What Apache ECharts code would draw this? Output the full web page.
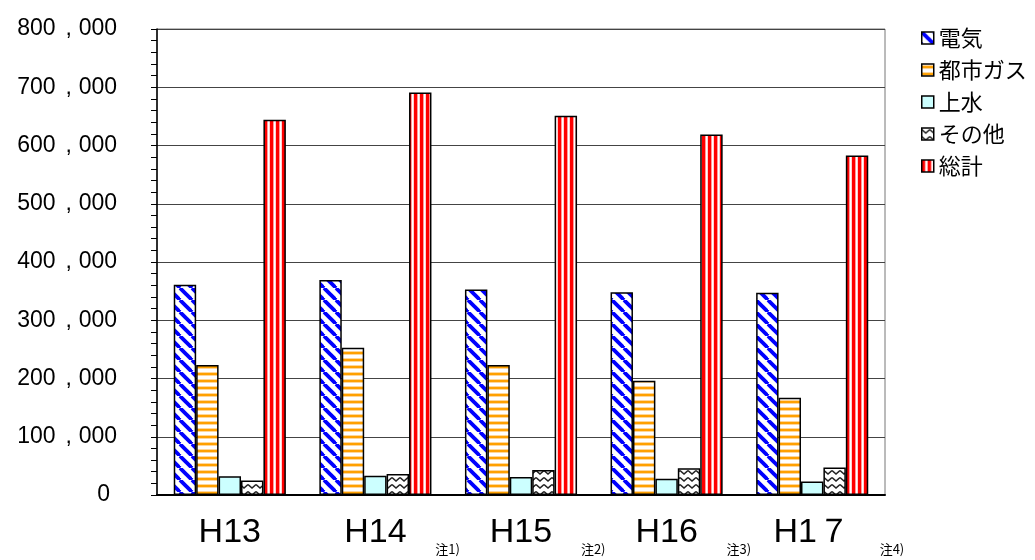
<!DOCTYPE html>
<html>
<head>
<meta charset="utf-8">
<script src="https://cdn.jsdelivr.net/npm/echarts@6/dist/echarts.min.js"></script>
<style>html,body{margin:0;padding:0;background:#fff}#c{width:1035px;height:560px}</style>
</head>
<body>
<div id="c"></div>
<script>
const categories = ['H13', 'H14', 'H15', 'H16', 'H1７'];
const notes = ['', '注1)', '注2)', '注3)', '注4)'];
const seriesNames = ['電気', '都市ガス', '上水', 'その他', '総計'];
const denki = [361000, 369000, 353000, 348000, 347000];
const gas = [223000, 253000, 223000, 196000, 167000];
const jousui = [32000, 33000, 31000, 28000, 23000];
const sonota = [25000, 36000, 43000, 46000, 47000];
const soukei = [644000, 691000, 651000, 619000, 583000];
const yTicks = [0, 100000, 200000, 300000, 400000, 500000, 600000, 700000, 800000];

function pat(w, h, draw) {
  const c = document.createElement('canvas');
  c.width = w; c.height = h;
  const ctx = c.getContext('2d');
  ctx.fillStyle = '#fff';
  ctx.fillRect(0, 0, w, h);
  draw(ctx);
  return { image: c, repeat: 'repeat' };
}
const pDenki = pat(12, 12, ctx => {
  ctx.strokeStyle = '#0000ff'; ctx.lineWidth = 3.8;
  for (const k of [-12, 0, 12]) { ctx.beginPath(); ctx.moveTo(k, 0); ctx.lineTo(k + 12, 12); ctx.stroke(); }
});
const pGas = pat(4, 7, ctx => {
  ctx.fillStyle = '#ffd699'; ctx.fillRect(0, 1, 4, 1); ctx.fillRect(0, 4, 4, 1);
  ctx.fillStyle = '#ffa000'; ctx.fillRect(0, 2, 4, 2);
});
const pSonota = pat(8, 7, ctx => {
  ctx.strokeStyle = '#222'; ctx.lineWidth = 1.6;
  ctx.beginPath(); ctx.moveTo(0, 1.5); ctx.lineTo(4, 5); ctx.lineTo(8, 1.5); ctx.stroke();
});
const pSoukei = pat(6, 4, ctx => {
  ctx.fillStyle = '#ff0000'; ctx.fillRect(0, 0, 3, 4);
  ctx.fillStyle = '#ff9a9a'; ctx.fillRect(3, 0, 1, 4);
  ctx.fillStyle = '#ffd0d0'; ctx.fillRect(5, 0, 1, 4);
});
const fills = [pDenki, pGas, '#ccffff', pSonota, pSoukei];
const values = [denki, gas, jousui, sonota, soukei];

const chart = echarts.init(document.getElementById('c'), null, { renderer: 'canvas' });
chart.setOption({
  animation: false,
  backgroundColor: '#fff',
  grid: { left: 157, right: 150, top: 29, bottom: 65, show: true, borderColor: '#777', borderWidth: 1 },
  legend: {
    orient: 'vertical', left: 916, top: 22, itemWidth: 12, itemHeight: 12, itemGap: 10,
    icon: 'rect',
    itemStyle: { borderColor: '#000', borderWidth: 1.5 },
    textStyle: { fontFamily: 'Noto Sans CJK JP', fontSize: 22, color: '#000', lineHeight: 22 },
    data: seriesNames
  },
  xAxis: {
    type: 'category', data: categories,
    axisLine: { lineStyle: { color: '#000', width: 2 } },
    axisTick: { inside: true, length: 8, lineStyle: { color: '#444', width: 1 } },
    axisLabel: {
      interval: 0, margin: 21,
      formatter: (v, i) => notes[i] ? '{s| }{h|' + v + '}{n|' + notes[i] + '}' : '{h|' + v + '}',
      rich: {
        s: { width: 54, height: 40, fontSize: 12 },
        h: { fontFamily: 'Liberation Sans', fontSize: 34, lineHeight: 36, color: '#000', verticalAlign: 'top' },
        n: { fontFamily: 'Noto Sans CJK JP', fontSize: 13, lineHeight: 15, width: 26, padding: [0, 0, 0, 28], color: '#000', verticalAlign: 'bottom' }
      }
    }
  },
  yAxis: {
    type: 'value', min: 0, max: 800000, interval: 100000,
    axisLine: { show: true, lineStyle: { color: '#000', width: 1.5 } },
    axisTick: { show: true, length: 6, lineStyle: { color: '#000' } },
    minorTick: { show: true, splitNumber: 5, length: 6, lineStyle: { color: '#000' } },
    splitLine: { lineStyle: { color: '#444', width: 1 } },
    axisLabel: {
      margin: 40,
      formatter: v => {
        const t = yTicks.indexOf(v);
        if (t === 0) return '{z|0}';
        const k = String(Math.floor(v / 1000));
        return '{d|' + k + '}{c|,}{d|000}';
      },
      rich: {
        d: { fontFamily: 'Liberation Sans', fontSize: 23, color: '#000' },
        z: { fontFamily: 'Liberation Sans', fontSize: 23, color: '#000', padding: [0, 7, 0, 0] },
        c: { fontFamily: 'Liberation Sans', fontSize: 23, color: '#000', width: 20, align: 'left', padding: [0, 0, 0, 3] }
      }
    }
  },
  series: seriesNames.map((name, i) => ({
    name, type: 'bar', data: values[i],
    barGap: '0%', barCategoryGap: '23%',
    itemStyle: { color: fills[i], borderColor: '#000', borderWidth: 1.5 }
  }))
});
</script>
</body>
</html>
